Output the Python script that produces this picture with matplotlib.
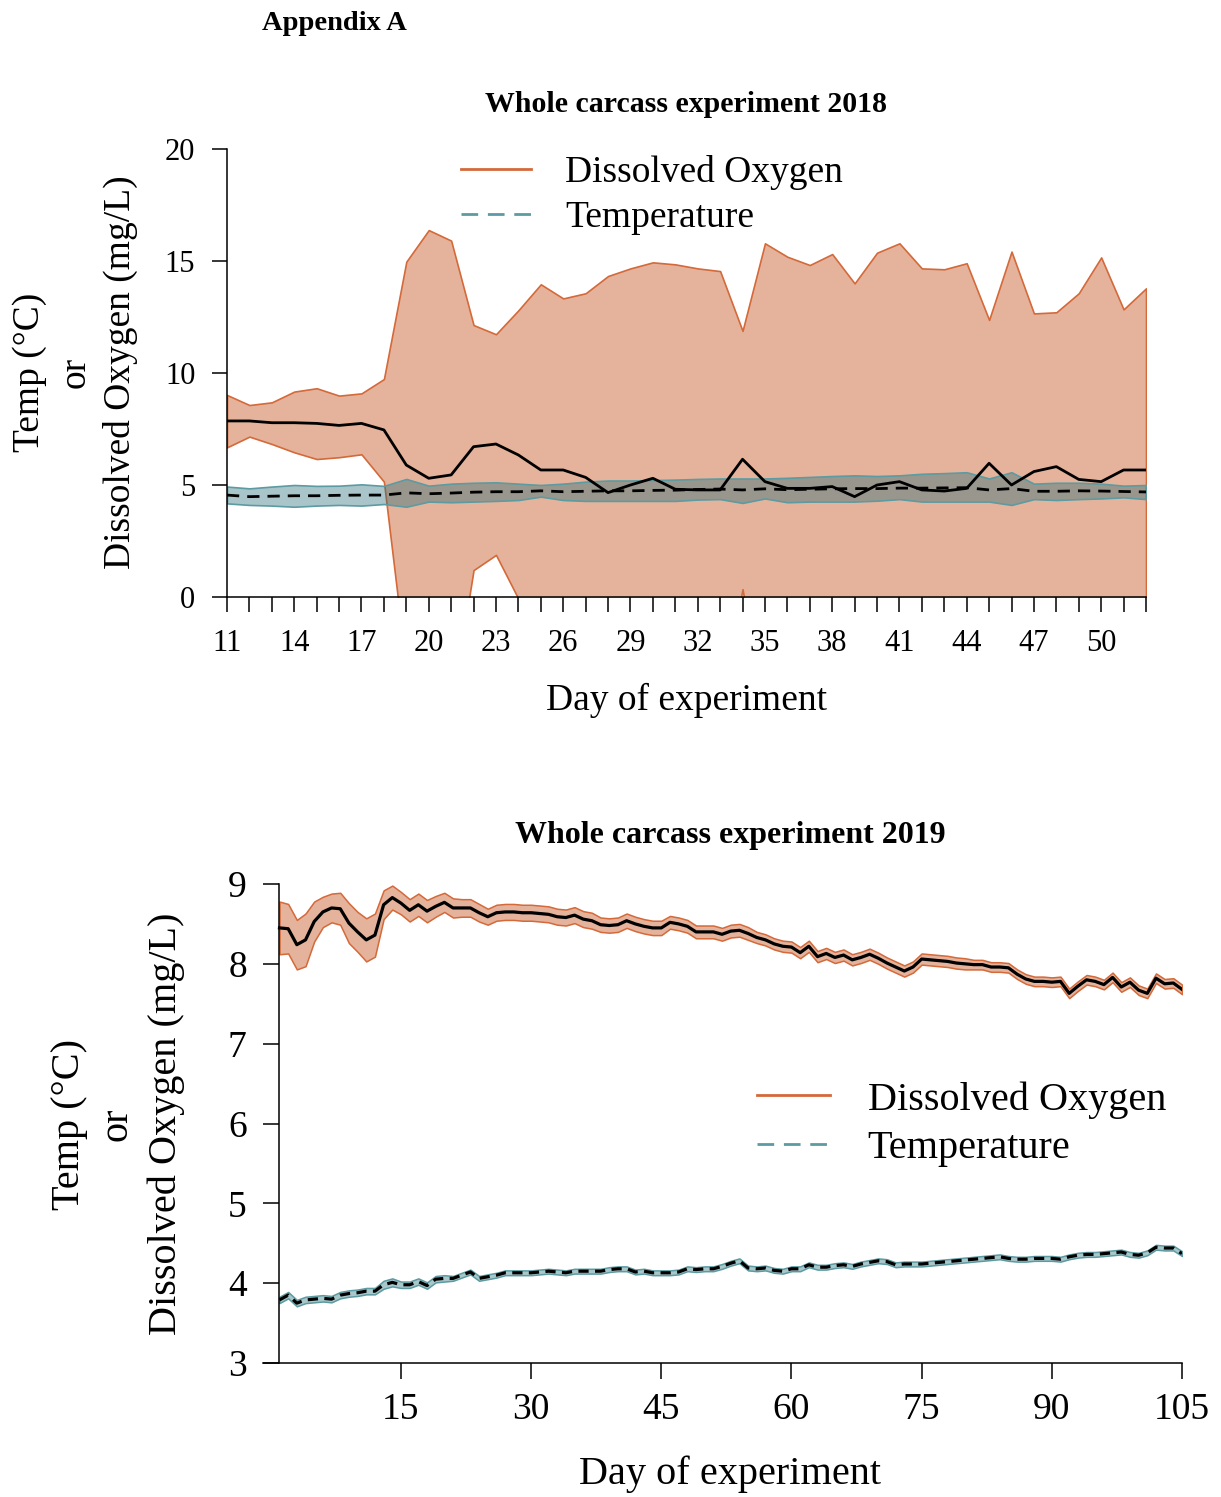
import matplotlib
matplotlib.use('Agg')
import matplotlib.pyplot as plt
from matplotlib.lines import Line2D

plt.rcParams['font.family'] = 'serif'
plt.rcParams['font.serif'] = ['Liberation Serif']

# ---- 2018 data (days 11-52) ----
days18 = list(range(11, 53))

do18_mean = [7.86, 7.86, 7.78, 7.78, 7.75, 7.66, 7.75, 7.46, 5.89, 5.30,
             5.45, 6.71, 6.83, 6.34, 5.67, 5.67, 5.34, 4.66, 5.00, 5.30,
             4.81, 4.78, 4.78, 6.15, 5.15, 4.85, 4.85, 4.93, 4.48, 5.00,
             5.15, 4.78, 4.73, 4.85, 5.97, 5.00, 5.60, 5.82, 5.25, 5.15,
             5.67, 5.67]
do18_upper = [9.02, 8.57, 8.69, 9.17, 9.32, 8.99, 9.09, 9.73, 14.97, 16.38,
              15.91, 12.14, 11.73, 12.80, 13.96, 13.33, 13.56, 14.33, 14.67, 14.94,
              14.85, 14.67, 14.55, 11.88, 15.79, 15.19, 14.82, 15.31, 14.00, 15.37,
              15.79, 14.67, 14.63, 14.90, 12.37, 15.42, 12.66, 12.71, 13.56, 15.16,
              12.84, 13.78]
do18_lower = [6.68, 7.16, 6.83, 6.46, 6.16, 6.24, 6.37, 5.15, -3.19, -5.78,
              -5.01, 1.20, 1.88, -0.08, -2.62, -1.99, -2.88, -5.01, -4.67, -4.34,
              -5.23, -5.11, -4.99, 0.35, -5.49, -5.49, -5.12, -5.45, -5.04, -5.37,
              -5.49, -5.11, -5.17, -5.20, -0.43, -5.42, -1.46, -1.07, -3.06, -4.86,
              -1.50, -2.44]

temp18_mean = [4.55, 4.48, 4.50, 4.52, 4.52, 4.54, 4.55, 4.55, 4.65, 4.61,
               4.64, 4.68, 4.70, 4.70, 4.74, 4.70, 4.72, 4.74, 4.74, 4.76,
               4.77, 4.80, 4.82, 4.78, 4.83, 4.79, 4.81, 4.83, 4.84, 4.84,
               4.86, 4.86, 4.87, 4.88, 4.78, 4.84, 4.72, 4.72, 4.74, 4.73,
               4.71, 4.69]
temp18_upper = [4.93, 4.85, 4.93, 5.00, 4.96, 4.97, 5.03, 4.96, 5.27, 4.97,
                5.06, 5.10, 5.12, 5.06, 5.00, 5.06, 5.15, 5.20, 5.20, 5.22,
                5.24, 5.27, 5.29, 5.29, 5.29, 5.32, 5.36, 5.40, 5.43, 5.40,
                5.43, 5.50, 5.53, 5.57, 5.29, 5.57, 5.06, 5.10, 5.10, 5.06,
                4.97, 5.00]
temp18_lower = [4.18, 4.11, 4.08, 4.03, 4.08, 4.11, 4.08, 4.15, 4.03, 4.26,
                4.23, 4.26, 4.29, 4.33, 4.48, 4.33, 4.29, 4.29, 4.29, 4.29,
                4.29, 4.35, 4.37, 4.20, 4.40, 4.23, 4.26, 4.26, 4.26, 4.30,
                4.37, 4.26, 4.26, 4.26, 4.26, 4.11, 4.37, 4.33, 4.37, 4.40,
                4.45, 4.37]

# ---- 2019 data (days 1-105) ----
days19 = list(range(1, 106))

do19_mean = [8.45, 8.44, 8.24, 8.30, 8.53, 8.65, 8.70, 8.69, 8.51, 8.40,
             8.30, 8.36, 8.74, 8.83, 8.76, 8.67, 8.74, 8.66, 8.72, 8.77,
             8.70, 8.70, 8.70, 8.64, 8.59, 8.64, 8.65, 8.65, 8.64, 8.64,
             8.63, 8.62, 8.59, 8.58, 8.61, 8.56, 8.54, 8.49, 8.48, 8.49,
             8.54, 8.50, 8.47, 8.45, 8.45, 8.52, 8.50, 8.47, 8.40, 8.40,
             8.40, 8.37, 8.41, 8.42, 8.38, 8.33, 8.30, 8.25, 8.22, 8.21,
             8.14, 8.22, 8.09, 8.13, 8.08, 8.11, 8.05, 8.08, 8.12, 8.07,
             8.01, 7.96, 7.91, 7.96, 8.06, 8.05, 8.04, 8.03, 8.01, 8.00,
             7.99, 7.99, 7.96, 7.96, 7.95, 7.87, 7.81, 7.78, 7.78, 7.77,
             7.78, 7.63, 7.72, 7.80, 7.78, 7.74, 7.83, 7.71, 7.77, 7.67,
             7.63, 7.82, 7.75, 7.76, 7.68]
do19_sd = [0.33, 0.31, 0.31, 0.33, 0.25, 0.19, 0.18, 0.20, 0.25, 0.25,
           0.27, 0.27, 0.18, 0.15, 0.14, 0.14, 0.14, 0.14, 0.13, 0.12,
           0.12, 0.11, 0.11, 0.11, 0.10, 0.10, 0.10, 0.10, 0.10, 0.10,
           0.10, 0.10, 0.10, 0.10, 0.10, 0.10, 0.10, 0.09, 0.09, 0.09,
           0.09, 0.09, 0.09, 0.09, 0.09, 0.08, 0.08, 0.08, 0.08, 0.08,
           0.08, 0.08, 0.08, 0.08, 0.08, 0.07, 0.07, 0.07, 0.07, 0.07,
           0.07, 0.07, 0.07, 0.07, 0.07, 0.07, 0.07, 0.07, 0.07, 0.07,
           0.07, 0.07, 0.07, 0.07, 0.07, 0.07, 0.07, 0.07, 0.07, 0.07,
           0.06, 0.06, 0.06, 0.06, 0.06, 0.06, 0.06, 0.06, 0.06, 0.06,
           0.06, 0.06, 0.06, 0.06, 0.06, 0.06, 0.06, 0.06, 0.06, 0.06,
           0.06, 0.06, 0.06, 0.06, 0.06]

temp19_mean = [3.79, 3.85, 3.75, 3.79, 3.80, 3.81, 3.80, 3.85, 3.87, 3.88,
               3.90, 3.90, 3.98, 4.01, 3.98, 3.98, 4.02, 3.97, 4.05, 4.06,
               4.06, 4.10, 4.14, 4.06, 4.08, 4.10, 4.13, 4.13, 4.13, 4.13,
               4.14, 4.15, 4.14, 4.13, 4.15, 4.15, 4.15, 4.15, 4.17, 4.18,
               4.18, 4.14, 4.15, 4.13, 4.13, 4.13, 4.14, 4.18, 4.17, 4.18,
               4.18, 4.21, 4.25, 4.28, 4.19, 4.18, 4.19, 4.16, 4.15, 4.18,
               4.18, 4.23, 4.20, 4.20, 4.22, 4.23, 4.21, 4.24, 4.26, 4.28,
               4.27, 4.23, 4.24, 4.24, 4.24, 4.25, 4.26, 4.27, 4.28, 4.29,
               4.30, 4.31, 4.32, 4.33, 4.31, 4.30, 4.30, 4.31, 4.31, 4.31,
               4.30, 4.33, 4.35, 4.36, 4.36, 4.37, 4.38, 4.39, 4.36, 4.35,
               4.38, 4.45, 4.44, 4.44, 4.37]
temp19_sd = [0.04, 0.04, 0.04, 0.04, 0.04, 0.04, 0.04, 0.04, 0.04, 0.04,
             0.04, 0.04, 0.05, 0.05, 0.04, 0.04, 0.04, 0.04, 0.04, 0.04,
             0.03, 0.03, 0.03, 0.03, 0.03, 0.03, 0.03, 0.03, 0.03, 0.03,
             0.03, 0.03, 0.03, 0.03, 0.03, 0.03, 0.03, 0.03, 0.03, 0.03,
             0.03, 0.03, 0.03, 0.03, 0.03, 0.03, 0.03, 0.03, 0.03, 0.03,
             0.03, 0.03, 0.03, 0.03, 0.03, 0.03, 0.03, 0.03, 0.03, 0.03,
             0.03, 0.03, 0.03, 0.03, 0.03, 0.03, 0.03, 0.03, 0.03, 0.03,
             0.03, 0.03, 0.03, 0.03, 0.03, 0.03, 0.03, 0.03, 0.03, 0.03,
             0.03, 0.03, 0.03, 0.03, 0.03, 0.03, 0.03, 0.03, 0.03, 0.03,
             0.03, 0.03, 0.03, 0.03, 0.03, 0.03, 0.03, 0.03, 0.03, 0.03,
             0.03, 0.03, 0.03, 0.03, 0.03]

do19_upper = [m + s for m, s in zip(do19_mean, do19_sd)]
do19_lower = [m - s for m, s in zip(do19_mean, do19_sd)]
temp19_upper = [m + s for m, s in zip(temp19_mean, temp19_sd)]
temp19_lower = [m - s for m, s in zip(temp19_mean, temp19_sd)]

DO_EDGE = '#d4693a'
DO_FILL = '#e5b39b'
T_EDGE = '#5b9ba1'
T_FILL = '#a8c7cb'

W, H = 1221, 1497
fig = plt.figure(figsize=(W / 100, H / 100), dpi=100)


def fx(px):
    return px / W


def fy(py):
    return 1 - py / H


def style_axes(ax, length, width):
    ax.spines['top'].set_visible(False)
    ax.spines['right'].set_visible(False)
    for s in ('left', 'bottom'):
        ax.spines[s].set_linewidth(width)
    ax.tick_params(direction='out', length=length, width=width)


# ---------------- top panel: 2018 ----------------
ax1 = fig.add_axes([fx(227), fy(597), fx(1146) - fx(227), fy(149) - fy(597)])
ax1.fill_between(days18, do18_lower, do18_upper, facecolor=DO_FILL,
                 edgecolor=DO_EDGE, linewidth=1.2, zorder=1)
ax1.fill_between(days18, temp18_lower, temp18_upper,
                 facecolor=(40 / 255, 110 / 255, 120 / 255, 0.4),
                 edgecolor=T_EDGE, linewidth=1.2, zorder=2)
ax1.plot(days18, do18_mean, color='k', lw=2.0, zorder=3)
ax1.plot(days18, temp18_mean, color='k', lw=2.0, ls=(0, (4.4, 2.9)), zorder=3)
ax1.set_xlim(11, 52)
ax1.set_ylim(0, 20)
style_axes(ax1, 10.8, 1.1)
ax1.set_xticks(days18)
ax1.set_xticklabels([str(d) if (d - 11) % 3 == 0 else '' for d in days18])
ax1.set_yticks([0, 5, 10, 15, 20])
ax1.tick_params(axis='x', labelsize=22, pad=12)
ax1.tick_params(axis='y', labelsize=22, pad=12)

handles = [Line2D([], [], color=DO_EDGE, lw=2.0),
           Line2D([], [], color=T_EDGE, lw=2.0, ls=(0, (6.0, 3.5)))]
ax1.legend(handles, ['Dissolved Oxygen', 'Temperature'], loc='center left',
           bbox_to_anchor=(fx(461), fy(195)), bbox_transform=fig.transFigure,
           frameon=False, fontsize=27, handlelength=1.87, handletextpad=0.9,
           labelspacing=0.28, borderpad=0, borderaxespad=0)

# ---------------- bottom panel: 2019 ----------------
ax2 = fig.add_axes([fx(263), fy(1363), fx(1182) - fx(263), fy(884) - fy(1363)])
ax2.fill_between(days19, do19_lower, do19_upper, facecolor=DO_FILL,
                 edgecolor=DO_EDGE, linewidth=1.1, zorder=1)
ax2.fill_between(days19, temp19_lower, temp19_upper, facecolor=T_FILL,
                 edgecolor=T_EDGE, linewidth=1.1, zorder=1)
ax2.plot(days19, do19_mean, color='k', lw=2.3, zorder=3)
ax2.plot(days19, temp19_mean, color='k', lw=2.3, ls=(0, (3.2, 2.0)), zorder=3)
ax2.set_xlim(-0.9, 105)
ax2.set_ylim(3, 9)
style_axes(ax2, 11.5, 1.1)
ax2.spines['left'].set_position(('data', 1))
ax2.set_xticks([15, 30, 45, 60, 75, 90, 105])
ax2.set_yticks([3, 4, 5, 6, 7, 8, 9])
ax2.tick_params(axis='x', labelsize=27, pad=10)
ax2.tick_params(axis='y', labelsize=27, pad=12)

handles2 = [Line2D([], [], color=DO_EDGE, lw=2.0),
            Line2D([], [], color=T_EDGE, lw=2.0, ls=(0, (6.0, 3.5)))]
ax2.legend(handles2, ['Dissolved Oxygen', 'Temperature'], loc='center left',
           bbox_to_anchor=(fx(757), fy(1124)), bbox_transform=fig.transFigure,
           frameon=False, fontsize=29, handlelength=1.8, handletextpad=0.95,
           labelspacing=0.28, borderpad=0, borderaxespad=0)

# ---------------- texts ----------------
fig.text(fx(334), fy(23), 'Appendix A', ha='center', va='center',
         fontsize=20.5, fontweight='bold')
fig.text(fx(686), fy(104), 'Whole carcass experiment 2018', ha='center',
         va='center', fontsize=21.5, fontweight='bold')
fig.text(fx(730), fy(836), 'Whole carcass experiment 2019', ha='center',
         va='center', fontsize=23, fontweight='bold')
fig.text(fx(686), fy(700), 'Day of experiment', ha='center', va='center', fontsize=27)
fig.text(fx(730), fy(1474), 'Day of experiment', ha='center', va='center', fontsize=29)

for x, s in [(30, 'Temp (°C)'), (75, 'or'), (120, 'Dissolved Oxygen (mg/L)')]:
    fig.text(fx(x), fy(372), s, rotation=90, ha='center', va='center', fontsize=27)
for x, s in [(70, 'Temp (°C)'), (117, 'or'), (166, 'Dissolved Oxygen (mg/L)')]:
    fig.text(fx(x), fy(1124), s, rotation=90, ha='center', va='center', fontsize=29)

fig.savefig('out.png', dpi=100)
